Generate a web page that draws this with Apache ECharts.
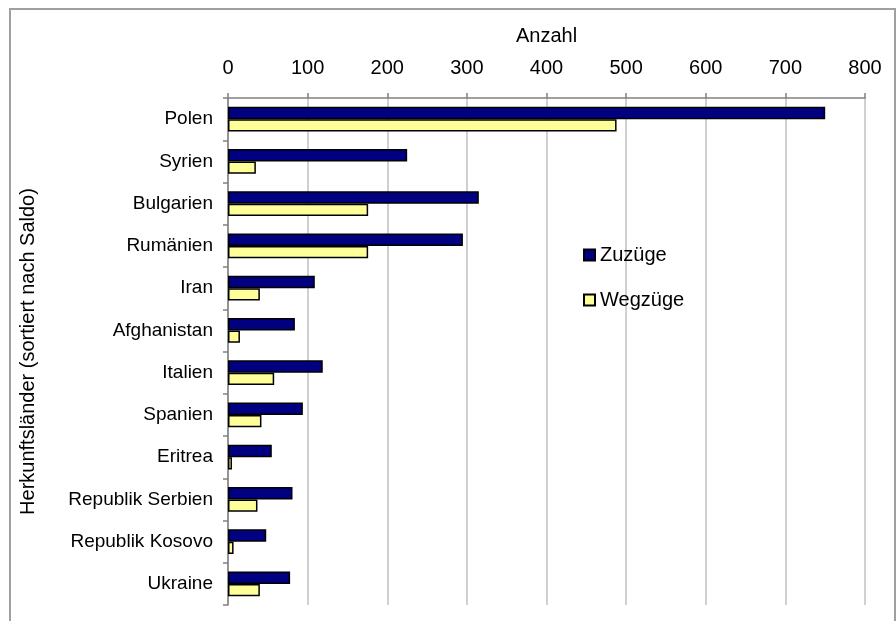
<!DOCTYPE html>
<html>
<head>
<meta charset="utf-8">
<script src="https://cdn.jsdelivr.net/npm/echarts@6/dist/echarts.min.js"></script>
<style>
  html, body { margin: 0; padding: 0; background: #fff; }
  #main { width: 896px; height: 621px; }
</style>
</head>
<body>
<div id="main"></div>
<script>
var laender = ['Polen', 'Syrien', 'Bulgarien', 'Rumänien', 'Iran', 'Afghanistan', 'Italien',
  'Spanien', 'Eritrea', 'Republik Serbien', 'Republik Kosovo', 'Ukraine'];
var zuzuege = [750, 225, 315, 295, 109, 84, 119, 94, 55, 81, 48, 78];
var wegzuege = [488, 35, 176, 176, 40, 15, 58, 42, 5, 37, 7, 40];

var chart = echarts.init(document.getElementById('main'));
var fam = 'Liberation Sans, Arial, sans-serif';

chart.setOption({
  animation: false,
  textStyle: { fontFamily: fam, color: '#000' },
  graphic: [{
    type: 'rect',
    shape: { x: 10, y: 9, width: 885, height: 700 },
    style: { fill: 'none', stroke: '#a0a0a0', lineWidth: 2 }
  }],
  grid: { left: 228, right: 31, top: 98, bottom: 16 },
  legend: {
    left: 578, top: 240,
    orient: 'vertical',
    itemGap: 25,
    itemWidth: 11, itemHeight: 11,
    icon: 'rect',
    textStyle: { fontSize: 20, color: '#000', fontFamily: fam },
    data: ['Zuzüge', 'Wegzüge']
  },
  xAxis: {
    type: 'value',
    position: 'top',
    min: 0, max: 800, interval: 100,
    name: 'Anzahl',
    nameLocation: 'middle',
    nameGap: 52,
    nameTextStyle: { fontSize: 20, fontFamily: fam },
    axisLine: { show: true, lineStyle: { color: '#808080', width: 1.5 } },
    axisTick: { show: true, length: 5, lineStyle: { color: '#808080', width: 1.5 } },
    axisLabel: { fontSize: 20, color: '#000', margin: 20, fontFamily: fam },
    splitLine: { lineStyle: { color: '#c0c0c0', width: 1.5 } }
  },
  yAxis: {
    type: 'category',
    inverse: true,
    data: laender,
    name: 'Herkunftsländer (sortiert nach Saldo)',
    nameLocation: 'middle',
    nameGap: 190,
    nameTextStyle: { fontSize: 20, fontFamily: fam },
    axisLine: { lineStyle: { color: '#808080', width: 1.5 } },
    axisTick: { show: true, length: 5, lineStyle: { color: '#808080', width: 1.5 } },
    axisLabel: { fontSize: 19, color: '#000', margin: 15, fontFamily: fam }
  },
  series: [
    {
      name: 'Zuzüge', type: 'bar', data: zuzuege,
      barGap: '0%', barCategoryGap: '42%',
      itemStyle: { color: '#000080', borderColor: '#000', borderWidth: 1.5 }
    },
    {
      name: 'Wegzüge', type: 'bar', data: wegzuege,
      itemStyle: { color: '#ffff99', borderColor: '#000', borderWidth: 1.5 }
    }
  ]
});
</script>
</body>
</html>
